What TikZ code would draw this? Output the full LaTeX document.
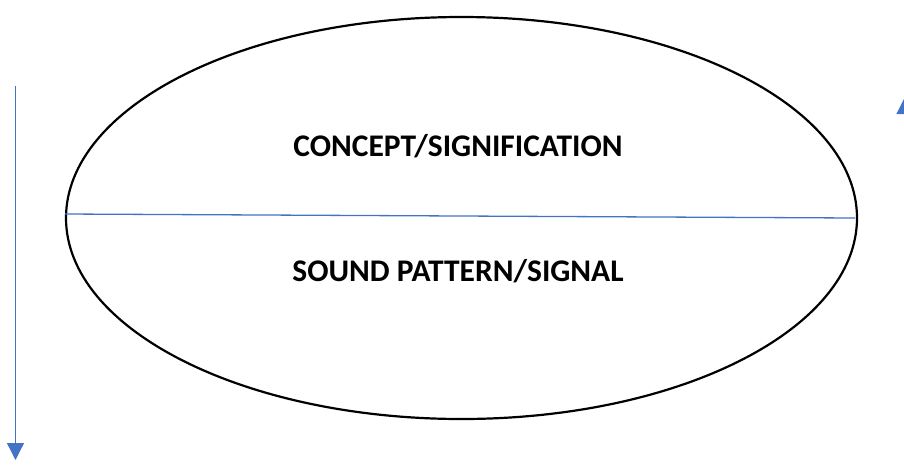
\documentclass[tikz,border=0pt]{standalone}
\usepackage{fontspec}
\setmainfont{Carlito}
\usetikzlibrary{arrows.meta}
\definecolor{lineblue}{HTML}{4472C4}
\tikzset{
  axis/.style={draw=lineblue, line width=1.3pt},
  flow/.style={axis, -{Triangle[width=17pt,length=17pt]}},
  label/.style={font=\fontsize{31.5}{36}\selectfont\bfseries, inner sep=0pt}
}
\begin{document}
\begin{tikzpicture}[x=1pt,y=-1pt]
  \useasboundingbox (0,0) rectangle (904,472);
  % the sign: an ellipse split into its two faces
  \draw[line width=2.2pt] (461.5,218) ellipse [x radius=395.5, y radius=201];
  \coordinate (splitL) at (65,214);
  \coordinate (splitR) at (855,218);
  \draw[axis] (splitL) -- (splitR);
  \node[label] (concept) at (458,146) {CONCEPT/SIGNIFICATION};
  \node[label] (sound) at (458,271) {SOUND PATTERN/SIGNAL};
  % arrows on either side
  \coordinate (downTop) at (15.5,86);
  \coordinate (downEnd) at (15.5,460);
  \draw[flow] (downTop) -- (downEnd);
  \coordinate (upBottom) at (905,460);
  \coordinate (upEnd) at (905,97);
  \draw[flow] (upBottom) -- (upEnd);
\end{tikzpicture}
\end{document}
